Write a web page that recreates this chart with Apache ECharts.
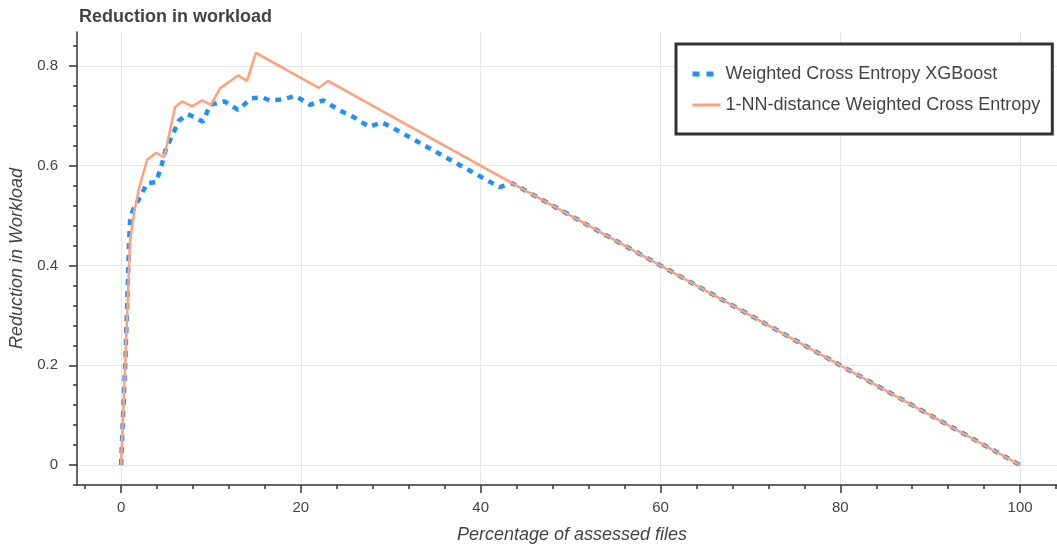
<!DOCTYPE html>
<html>
<head>
<meta charset="utf-8">
<script src="https://cdn.jsdelivr.net/npm/echarts@6/dist/echarts.min.js"></script>
<style>
  html, body { margin: 0; background: #fff; }
  #chart { width: 1057px; height: 548px; }
</style>
</head>
<body>
<div id="chart"></div>
<script>
// [percentage of assessed files, reduction in workload]
const xgboost = [
  [0, 0], [0.5, 0.22], [0.9, 0.45], [1.0, 0.49], [1.3, 0.51], [2.1, 0.537],
  [2.9, 0.565], [3.9, 0.567], [4.5, 0.6], [5.0, 0.635], [5.7, 0.66], [6.4, 0.69],
  [7.4, 0.703], [8.1, 0.698], [9.1, 0.688], [9.9, 0.722], [11.5, 0.729],
  [13.0, 0.712], [14.5, 0.735], [15.7, 0.737], [16.5, 0.731], [18.0, 0.733],
  [19.4, 0.74], [21.0, 0.722], [22.5, 0.731], [24.3, 0.711], [26.0, 0.696],
  [27.6, 0.678], [29.0, 0.687], [30.6, 0.672], [42.1, 0.557], [43.5, 0.565],
  [100, 0]
];
const nnDistance = [
  [0, 0], [0.5, 0.22], [1.0, 0.45], [1.5, 0.51], [2.0, 0.555], [2.9, 0.612],
  [3.9, 0.626], [4.8, 0.617], [6.0, 0.717], [6.8, 0.729], [7.9, 0.719],
  [9.0, 0.731], [10.0, 0.722], [11.0, 0.755], [13.0, 0.781], [14.0, 0.77],
  [15.0, 0.826], [22.0, 0.756], [23.0, 0.77], [100, 0]
];
const seriesNames = ['Weighted Cross Entropy XGBoost', '1-NN-distance Weighted Cross Entropy'];
const xMajor = [0, 20, 40, 60, 80, 100];
const xMinor = [-4, 4, 8, 12, 16, 24, 28, 32, 36, 44, 48, 52, 56, 64, 68, 72, 76, 84, 88, 92, 96, 104];
const yMajor = [0, 0.2, 0.4, 0.6, 0.8];
const yMinor = [-0.04, 0.04, 0.08, 0.12, 0.16, 0.24, 0.28, 0.32, 0.36, 0.44, 0.48, 0.52, 0.56, 0.64, 0.68, 0.72, 0.76, 0.84];

const font = 'Liberation Sans, Arial, Helvetica, sans-serif';
const axisColor = '#333';
const textColor = '#444';
const gridColor = '#e6e6e6';
const blue = '#1E90FF';
const salmon = '#FFA07A';

const chart = echarts.init(document.getElementById('chart'));

const xRange = { min: -4.9, max: 104.1 };
const yRange = { min: -0.04, max: 0.868 };

chart.setOption({
  animation: false,
  backgroundColor: '#fff',
  textStyle: { fontFamily: font },
  title: {
    text: 'Reduction in workload',
    left: 74,
    top: 3,
    textStyle: { fontFamily: font, fontSize: 18, fontWeight: 'bold', color: textColor }
  },
  legend: {
    orient: 'vertical',
    left: 676,
    top: 44,
    backgroundColor: '#fff',
    borderColor: '#333',
    borderWidth: 3,
    borderRadius: 0,
    padding: [21, 12, 20, 14],
    itemGap: 13,
    itemWidth: 28,
    itemHeight: 18,
    itemStyle: { opacity: 0 },
    textStyle: { fontFamily: font, fontSize: 18, color: textColor },
    data: [
      { name: seriesNames[0], lineStyle: { width: 5, type: [7, 7] } },
      { name: seriesNames[1], lineStyle: { width: 3 } }
    ]
  },
  grid: { left: 77, right: 0, top: 32, bottom: 63, outerBoundsMode: 'none' },
  xAxis: [{
    type: 'value',
    position: 'bottom',
    min: xRange.min,
    max: xRange.max,
    name: 'Percentage of assessed files',
    nameLocation: 'middle',
    nameGap: 41,
    nameTextStyle: { fontFamily: font, fontSize: 18, fontStyle: 'italic', color: textColor, padding: [0, 0, 0, 10] },
    axisLine: { onZero: false, lineStyle: { color: axisColor, width: 1.5 } },
    axisTick: { customValues: xMajor, length: 8, lineStyle: { color: axisColor, width: 1.5 } },
    axisLabel: { customValues: xMajor, margin: 15, fontSize: 15, color: textColor, fontFamily: font },
    splitLine: { show: true, lineStyle: { color: gridColor, width: 1 } }
  }, {
    type: 'value',
    position: 'bottom',
    min: xRange.min,
    max: xRange.max,
    axisLine: { show: false, onZero: false },
    axisTick: { customValues: xMinor, length: 4, lineStyle: { color: axisColor, width: 1.5 } },
    axisLabel: { show: false },
    splitLine: { show: false }
  }],
  yAxis: [{
    type: 'value',
    position: 'left',
    min: yRange.min,
    max: yRange.max,
    name: 'Reduction in Workload',
    nameLocation: 'middle',
    nameGap: 50,
    nameTextStyle: { fontFamily: font, fontSize: 18, fontStyle: 'italic', color: textColor },
    axisLine: { show: true, onZero: false, lineStyle: { color: axisColor, width: 1.5 } },
    axisTick: { show: true, customValues: yMajor, length: 8, lineStyle: { color: axisColor, width: 1.5 } },
    axisLabel: { customValues: yMajor, margin: 19, fontSize: 15, color: textColor, fontFamily: font },
    splitLine: { show: true, lineStyle: { color: gridColor, width: 1 } }
  }, {
    type: 'value',
    position: 'left',
    min: yRange.min,
    max: yRange.max,
    axisLine: { show: false, onZero: false },
    axisTick: { show: true, customValues: yMinor, length: 4, lineStyle: { color: axisColor, width: 1.5 } },
    axisLabel: { show: false },
    splitLine: { show: false }
  }],
  series: [{
    name: seriesNames[0],
    type: 'line',
    data: xgboost,
    symbol: 'none',
    lineStyle: { color: blue, width: 4.5, type: [6, 6], cap: 'butt' },
    itemStyle: { color: blue }
  }, {
    name: seriesNames[1],
    type: 'line',
    data: nnDistance,
    symbol: 'none',
    lineStyle: { color: salmon, width: 2.5 },
    itemStyle: { color: salmon }
  }]
});
</script>
</body>
</html>
